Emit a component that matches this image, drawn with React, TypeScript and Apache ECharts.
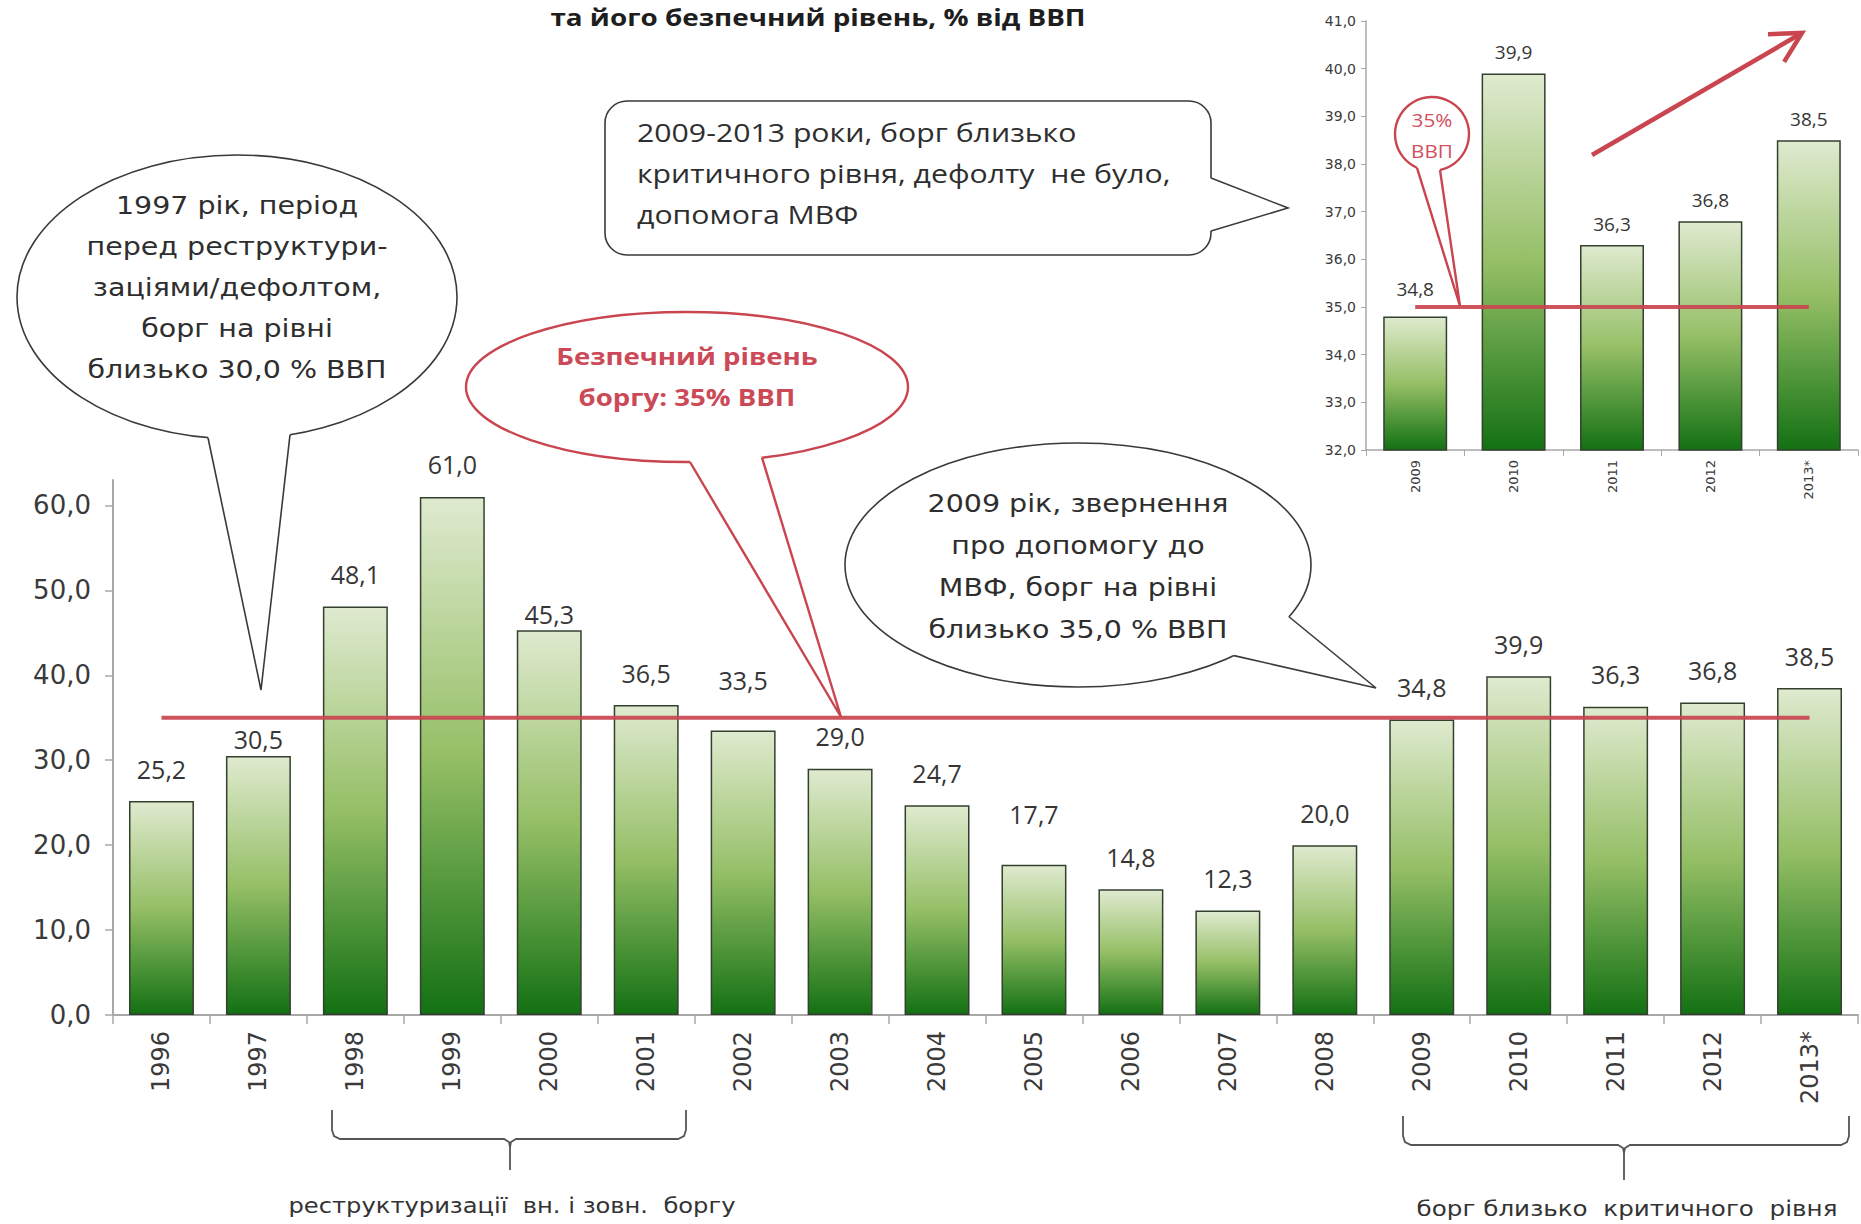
import React, { useEffect, useRef } from 'react';
import * as echarts from 'echarts';

// ---- data ----
const categories = ['1996', '1997', '1998', '1999', '2000', '2001', '2002', '2003', '2004', '2005', '2006', '2007', '2008', '2009', '2010', '2011', '2012', '2013*'];
const debtShare = [25.2, 30.5, 48.1, 61.0, 45.3, 36.5, 33.5, 29.0, 24.7, 17.7, 14.8, 12.3, 20.0, 34.8, 39.9, 36.3, 36.8, 38.5];
const safeLevel = 35;
const mainTickValues = [0, 10, 20, 30, 40, 50, 60];

const insetCategories = ['2009', '2010', '2011', '2012', '2013*'];
const insetShare = [34.8, 39.9, 36.3, 36.8, 38.5];
const insetTickValues = [32, 33, 34, 35, 36, 37, 38, 39, 40, 41];

// label placement tweaks (style only)
const mainLabelDistance: Record<string, number> = { '1997': 4, '2000': 4, '2002': 38, '2005': 38 };
const insetLabelDistance: Record<string, number> = { '2009': 18 };

const fmt = (v: number) => Number(v).toFixed(1).replace('.', ',');

const INK = '#3a3a3a';
const RED = '#c9454f';
const LW = 1.6;

type P = [number, number];

function ellY(cx: number, cy: number, rx: number, ry: number, x: number) {
  return cy + ry * Math.sqrt(Math.max(0, 1 - ((x - cx) / rx) ** 2));
}

function tailParts(center: P, b1: P, tip: P, b2: P, stroke: string, lw: number, z: number) {
  const inward = (b: P): P => {
    const dx = center[0] - b[0];
    const dy = center[1] - b[1];
    const l = Math.hypot(dx, dy) || 1;
    return [b[0] + (dx / l) * 8, b[1] + (dy / l) * 8];
  };
  return [
    {
      type: 'polygon',
      z,
      shape: { points: [b1, tip, b2, inward(b2), inward(b1)] },
      style: { fill: '#ffffff', stroke: 'none', lineWidth: 0 },
    },
    {
      type: 'polyline',
      z,
      shape: { points: [b1, tip, b2] },
      style: { fill: 'none', stroke, lineWidth: lw },
    },
  ];
}

function ellipseBubble(cx: number, cy: number, rx: number, ry: number, x1: number, x2: number, tip: P, stroke: string, lw: number) {
  const b1: P = [x1, ellY(cx, cy, rx, ry, x1)];
  const b2: P = [x2, ellY(cx, cy, rx, ry, x2)];
  return [
    { type: 'ellipse', z: 10, shape: { cx, cy, rx, ry }, style: { fill: '#ffffff', stroke, lineWidth: lw } },
    ...tailParts([cx, cy], b1, tip, b2, stroke, lw, 11),
  ];
}

function gtext(x: number, y: number, text: string, o: { size: number; family: string; color: string; weight?: string; sx?: number; align?: string }) {
  const align = o.align || 'center';
  return {
    type: 'text',
    x,
    y,
    scaleX: o.sx || 1,
    z: 20,
    style: {
      text,
      fill: o.color,
      fontSize: o.size,
      fontFamily: o.family,
      fontWeight: o.weight || 'normal',
      textAlign: align,
      align,
      textVerticalAlign: 'middle',
      verticalAlign: 'middle',
    },
  };
}

function buildGraphics() {
  const els: any[] = [];
  const bubbleFont = { size: 25, family: '"DejaVu Sans"', color: '#2e2e2e', sx: 1.14 };

  // title
  els.push(gtext(818, 17, 'та його безпечний рівень, % від ВВП', { size: 24, family: '"Open Sans"', color: '#1e1e1e', weight: 'bold', sx: 1.16 }));

  // left bubble
  els.push(...ellipseBubble(237, 297, 220, 142, 208, 290, [261, 690], INK, LW));
  ['1997 рік, період', 'перед реструктури-', 'заціями/дефолтом,', 'борг на рівні', 'близько 30,0 % ВВП'].forEach((t, i) => {
    els.push(gtext(237, 205 + i * 41, t, bubbleFont));
  });

  // red "safe level" bubble
  els.push(...ellipseBubble(687, 387, 221, 75, 690, 762, [841, 717], RED, 2.4));
  els.push(gtext(687, 356, 'Безпечний рівень', { size: 23, family: '"Open Sans"', color: '#cc4a58', weight: 'bold', sx: 1.2 }));
  els.push(gtext(687, 397, 'боргу: 35% ВВП', { size: 23, family: '"Open Sans"', color: '#cc4a58', weight: 'bold', sx: 1.2 }));

  // top speech box
  els.push({ type: 'rect', z: 10, shape: { x: 605, y: 101, width: 606, height: 154, r: 22 }, style: { fill: '#ffffff', stroke: INK, lineWidth: LW } });
  els.push(...tailParts([1100, 190], [1211, 178], [1288, 208], [1211, 231], INK, LW, 11));
  ['2009-2013 роки, борг близько', 'критичного рівня, дефолту  не було,', 'допомога МВФ'].forEach((t, i) => {
    els.push(gtext(637, 132 + i * 41, t, { size: 25, family: '"Open Sans"', color: '#2e2e2e', sx: 1.21, align: 'left' }));
  });

  // right bubble
  els.push(...ellipseBubble(1078, 565, 233, 122, 1234, 1289, [1376, 688], INK, LW));
  ['2009 рік, звернення', 'про допомогу до', 'МВФ, борг на рівні', 'близько 35,0 % ВВП'].forEach((t, i) => {
    els.push(gtext(1078, 503 + i * 42, t, bubbleFont));
  });

  // inset "35% ВВП" circle callout
  const cc: P = [1432, 134];
  const cr = 37;
  els.push({ type: 'circle', z: 10, shape: { cx: cc[0], cy: cc[1], r: cr }, style: { fill: '#ffffff', stroke: RED, lineWidth: 2.4 } });
  els.push(...tailParts(cc, [1417, ellY(cc[0], cc[1], cr, cr, 1417)], [1460, 306], [1440, ellY(cc[0], cc[1], cr, cr, 1440)], RED, 2.4, 11));
  els.push(gtext(1432, 120, '35%', { size: 18, family: '"Open Sans"', color: '#d2505e', sx: 1.15 }));
  els.push(gtext(1432, 151, 'ВВП', { size: 18, family: '"Open Sans"', color: '#d2505e', sx: 1.15 }));

  // upward trend arrow
  const a0: P = [1592, 155];
  const a1: P = [1802, 33];
  const dx = a1[0] - a0[0];
  const dy = a1[1] - a0[1];
  const L = Math.hypot(dx, dy);
  const ux = dx / L;
  const uy = dy / L;
  const px = -uy;
  const py = ux;
  const hl = 30;
  const hw = 16;
  const bx = a1[0] - ux * hl;
  const by = a1[1] - uy * hl;
  els.push({ type: 'line', z: 12, shape: { x1: a0[0], y1: a0[1], x2: a1[0] - ux * 3, y2: a1[1] - uy * 3 }, style: { stroke: RED, lineWidth: 4.5 } });
  els.push({
    type: 'polyline',
    z: 12,
    shape: { points: [[bx + px * hw, by + py * hw], a1, [bx - px * hw, by - py * hw]] },
    style: { fill: 'none', stroke: RED, lineWidth: 4.5, lineJoin: 'miter' },
  });

  // braces
  const brace = (x1: number, x2: number, xm: number, yTop: number, yH: number, yStem: number) => [
    {
      type: 'polyline',
      z: 12,
      shape: {
        points: [
          [x1, yTop], [x1, yH - 9], [x1 + 2, yH - 3], [x1 + 8, yH],
          [xm - 6, yH], [xm - 1, yH + 3], [xm, yH + 8], [xm, yStem],
        ],
      },
      style: { fill: 'none', stroke: '#555555', lineWidth: 1.8 },
    },
    {
      type: 'polyline',
      z: 12,
      shape: {
        points: [
          [xm, yH + 8], [xm + 1, yH + 3], [xm + 6, yH],
          [x2 - 8, yH], [x2 - 2, yH - 3], [x2, yH - 9], [x2, yTop],
        ],
      },
      style: { fill: 'none', stroke: '#555555', lineWidth: 1.8 },
    },
  ];
  els.push(...brace(332, 686, 510, 1110, 1139, 1170));
  els.push(...brace(1403, 1849, 1624, 1116, 1145, 1180));
  els.push(gtext(512, 1205, 'реструктуризації  вн. і зовн.  боргу', { size: 22, family: '"DejaVu Sans"', color: '#333333', sx: 1.1 }));
  els.push(gtext(1627, 1208, 'борг близько  критичного  рівня', { size: 22, family: '"DejaVu Sans"', color: '#333333', sx: 1.12 }));

  return els;
}

export default function App() {
  const ref = useRef<HTMLDivElement>(null);

  useEffect(() => {
    if (!ref.current) return;
    const chart = echarts.init(ref.current, undefined, { renderer: 'svg' });

    const barFill = new echarts.graphic.LinearGradient(0, 0, 0, 1, [
      { offset: 0, color: '#dfeacf' },
      { offset: 0.5, color: '#95bf66' },
      { offset: 1, color: '#137113' },
    ]);

    const axisGray = '#a8a8a8';
    const labelColor = '#3a3a3a';

    const option: any = {
      animation: false,
      backgroundColor: '#ffffff',
      grid: [
        { left: 113, top: 480, width: 1745, height: 535, containLabel: false },
        { left: 1366, top: 21, width: 492, height: 429, containLabel: false },
      ],
      xAxis: [
        {
          gridIndex: 0,
          type: 'category',
          data: categories,
          axisLine: { show: true, lineStyle: { color: axisGray, width: 2 } },
          axisTick: { show: true, length: 9, lineStyle: { color: axisGray, width: 1.5 } },
          axisLabel: { rotate: 90, margin: 16, interval: 0, fontSize: 24, fontFamily: '"DejaVu Sans"', color: labelColor },
        },
        {
          gridIndex: 1,
          type: 'category',
          data: insetCategories,
          axisLine: { show: true, lineStyle: { color: axisGray, width: 1.5 } },
          axisTick: { show: true, length: 6, lineStyle: { color: axisGray, width: 1 } },
          axisLabel: { rotate: 90, margin: 10, interval: 0, fontSize: 13, fontFamily: '"DejaVu Sans"', color: labelColor },
        },
      ],
      yAxis: [
        {
          gridIndex: 0,
          type: 'value',
          min: 0,
          max: 63,
          interval: 10,
          axisLine: { show: true, lineStyle: { color: axisGray, width: 2 } },
          axisTick: { show: true, length: 8, customValues: mainTickValues, lineStyle: { color: axisGray, width: 1.5 } },
          axisLabel: {
            customValues: mainTickValues,
            formatter: (v: number) => (v % 10 === 0 ? fmt(v) : ''),
            margin: 22,
            fontSize: 26,
            fontFamily: '"DejaVu Sans"',
            color: labelColor,
          },
          splitLine: { show: false },
        },
        {
          gridIndex: 1,
          type: 'value',
          min: 32,
          max: 41,
          interval: 1,
          axisLine: { show: true, lineStyle: { color: axisGray, width: 1.5 } },
          axisTick: { show: true, length: 5, customValues: insetTickValues, lineStyle: { color: axisGray, width: 1 } },
          axisLabel: {
            customValues: insetTickValues,
            formatter: (v: number) => fmt(v),
            margin: 10,
            fontSize: 14,
            fontFamily: '"DejaVu Sans"',
            color: labelColor,
          },
          splitLine: { show: false },
        },
      ],
      series: [
        {
          type: 'bar',
          xAxisIndex: 0,
          yAxisIndex: 0,
          barCategoryGap: '33%',
          data: debtShare.map((v, i) => ({ value: v, label: { distance: mainLabelDistance[categories[i]] ?? 20 } })),
          itemStyle: { color: barFill, borderColor: '#34402e', borderWidth: 1.5 },
          label: {
            show: true,
            position: 'top',
            formatter: (p: any) => fmt(p.value),
            fontSize: 25,
            fontFamily: '"Open Sans"',
            color: '#363636',
          },
          z: 2,
        },
        {
          type: 'line',
          xAxisIndex: 0,
          yAxisIndex: 0,
          data: categories.map(() => safeLevel),
          symbol: 'none',
          silent: true,
          lineStyle: { color: RED, width: 4, opacity: 0.92 },
          z: 3,
        },
        {
          type: 'bar',
          xAxisIndex: 1,
          yAxisIndex: 1,
          barCategoryGap: '35%',
          data: insetShare.map((v, i) => ({ value: v, label: { distance: insetLabelDistance[insetCategories[i]] ?? 12 } })),
          itemStyle: { color: barFill, borderColor: '#34402e', borderWidth: 1.5 },
          label: {
            show: true,
            position: 'top',
            formatter: (p: any) => fmt(p.value),
            fontSize: 19,
            fontFamily: '"Open Sans"',
            color: '#363636',
          },
          z: 2,
        },
        {
          type: 'line',
          xAxisIndex: 1,
          yAxisIndex: 1,
          data: insetCategories.map(() => safeLevel),
          symbol: 'none',
          silent: true,
          lineStyle: { color: RED, width: 4, opacity: 0.92 },
          z: 3,
        },
      ],
      graphic: { elements: buildGraphics() },
    };

    chart.setOption(option);
    return () => chart.dispose();
  }, []);

  return (
    <div
      ref={ref}
      style={{ position: 'fixed', left: 0, top: 0, width: '1861px', height: '1224px', background: '#ffffff' }}
    />
  );
}
